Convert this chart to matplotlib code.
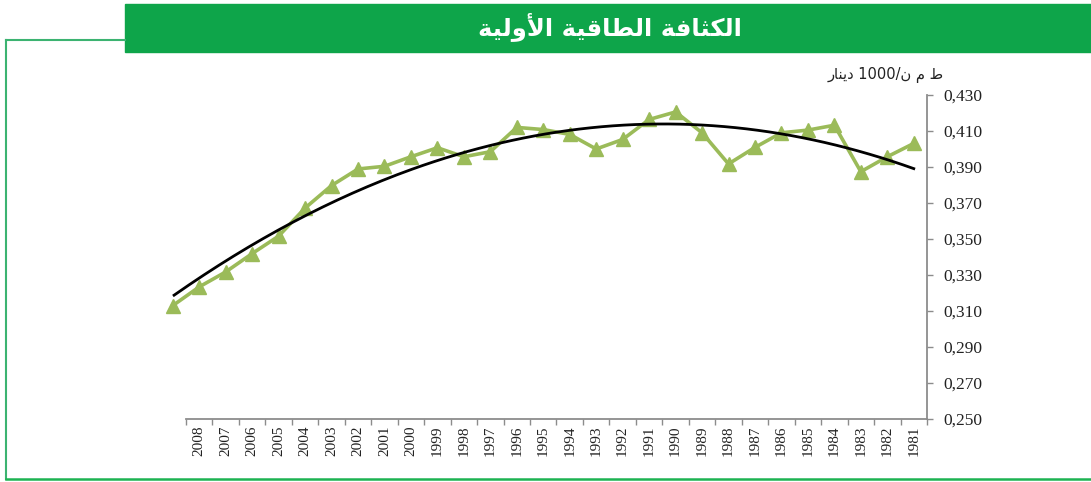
import re
import numpy as np
import matplotlib
matplotlib.use("Agg")
import matplotlib.pyplot as plt
from matplotlib.lines import Line2D
from matplotlib.patches import Rectangle
from matplotlib.ticker import FuncFormatter

years = ["2008", "2007", "2006", "2005", "2004", "2003", "2002", "2001", "2000",
         "1999", "1998", "1997", "1996", "1995", "1994", "1993", "1992", "1991",
         "1990", "1989", "1988", "1987", "1986", "1985", "1984", "1983", "1982", "1981"]
# 29 points in the source: the first one sits one slot before 2008
intensity = [0.313, 0.3234, 0.3317, 0.3419, 0.3516, 0.3672, 0.3797, 0.3889, 0.3904,
             0.3957, 0.4007, 0.3957, 0.3985, 0.4120, 0.4108, 0.4081, 0.4000, 0.4053,
             0.4164, 0.4206, 0.4090, 0.3917, 0.4009, 0.4090, 0.4105, 0.4132, 0.3874,
             0.3957, 0.4031]
title = "الكثافة الطاقية الأولية"
unit = "ط م ن/1000 دينار"

# minimal Arabic shaping (isolated, final, initial, medial)
FORMS = {
    "\u0627": ("\uFE8D", "\uFE8E", None, None),
    "\u0623": ("\uFE83", "\uFE84", None, None),
    "\u0629": ("\uFE93", "\uFE94", None, None),
    "\u0648": ("\uFEED", "\uFEEE", None, None),
    "\u062F": ("\uFEA9", "\uFEAA", None, None),
    "\u0631": ("\uFEAD", "\uFEAE", None, None),
    "\u062B": ("\uFE99", "\uFE9A", "\uFE9B", "\uFE9C"),
    "\u0637": ("\uFEC1", "\uFEC2", "\uFEC3", "\uFEC4"),
    "\u0641": ("\uFED1", "\uFED2", "\uFED3", "\uFED4"),
    "\u0642": ("\uFED5", "\uFED6", "\uFED7", "\uFED8"),
    "\u0643": ("\uFED9", "\uFEDA", "\uFEDB", "\uFEDC"),
    "\u0644": ("\uFEDD", "\uFEDE", "\uFEDF", "\uFEE0"),
    "\u0645": ("\uFEE1", "\uFEE2", "\uFEE3", "\uFEE4"),
    "\u0646": ("\uFEE5", "\uFEE6", "\uFEE7", "\uFEE8"),
    "\u064A": ("\uFEF1", "\uFEF2", "\uFEF3", "\uFEF4"),
}
LAM_ALEF = {"\u0623": ("\uFEF7", "\uFEF8"), "\u0627": ("\uFEFB", "\uFEFC")}


def joins_next(c):
    return c in FORMS and FORMS[c][2] is not None


def rtl(s):
    out = []
    i = 0
    while i < len(s):
        c = s[i]
        prev = s[i - 1] if i > 0 else ""
        nxt = s[i + 1] if i + 1 < len(s) else ""
        cp = joins_next(prev)
        if c == "\u0644" and nxt in LAM_ALEF:
            out.append(LAM_ALEF[nxt][1 if cp else 0])
            i += 2
            continue
        if c in FORMS:
            cn = joins_next(c) and nxt in FORMS
            f = FORMS[c]
            out.append(f[3] if cp and cn else f[1] if cp else f[2] if cn else f[0])
        else:
            out.append(c)
        i += 1
    vis = "".join(out)[::-1]
    return re.sub(r"\d+", lambda m: m.group()[::-1], vis)


W, H = 1091, 482
gray = "#8c8c8c"
fig = plt.figure(figsize=(W / 100, H / 100), dpi=100)
ax = fig.add_axes([186 / W, 1 - 419 / H, 741 / W, 324 / H])

x = np.arange(-1, len(years))
ax.plot(x, intensity, color="#9BBB59", lw=2.6, marker="^", ms=9.5,
        clip_on=False, zorder=3)
coef = np.polyfit(x, intensity, 2)
xt = np.linspace(x[0] + 0.05, x[-1], 200)
ax.plot(xt, np.polyval(coef, xt), color="black", lw=2, clip_on=False, zorder=4)

ax.set_xlim(-0.5, len(years) - 0.5)
ax.set_ylim(0.25, 0.43)
ax.yaxis.tick_right()
ax.set_yticks(np.arange(0.25, 0.4301, 0.02))
ax.yaxis.set_major_formatter(FuncFormatter(lambda v, p: f"{v:.3f}".replace(".", ",")))
ax.set_xticks(range(len(years)))
ax.set_xticklabels(years, rotation=90)
ax.set_xticks(np.arange(-0.5, len(years), 1), minor=True)
ax.tick_params(axis="x", which="major", length=0, pad=5, labelsize=11)
ax.tick_params(axis="x", which="minor", length=4, color=gray, width=1)
ax.tick_params(axis="y", length=4, color=gray, width=1, pad=8, labelsize=12.5)
for lab in ax.get_xticklabels() + ax.get_yticklabels():
    lab.set_family("Liberation Serif")
    lab.set_color("#222222")
ax.spines["top"].set_visible(False)
ax.spines["left"].set_visible(False)
for s in ("right", "bottom"):
    ax.spines[s].set_color(gray)
    ax.spines[s].set_linewidth(1.3)

# banner and frame
fig.patches.append(Rectangle((125 / W, 1 - 52 / H), 1 - 125 / W, 48 / H,
                             transform=fig.transFigure, color="#0EA54A", zorder=0))
fig.text(610 / W, 1 - 27 / H, rtl(title), color="white", fontsize=17.5,
         fontweight="bold", ha="center", va="center", family="DejaVu Sans")
frame = "#3CB371"
fig.lines.append(Line2D([5.5 / W, 5.5 / W], [1 - 40 / H, 1 - 479 / H],
                        transform=fig.transFigure, color=frame, lw=1.5))
fig.lines.append(Line2D([5.5 / W, 125 / W], [1 - 40 / H, 1 - 40 / H],
                        transform=fig.transFigure, color=frame, lw=1.5))
fig.lines.append(Line2D([5.5 / W, 1], [1 - 479 / H, 1 - 479 / H],
                        transform=fig.transFigure, color="#1DB352", lw=1.8))
fig.text(944 / W, 1 - 75 / H, rtl(unit), fontsize=10.5, ha="right", va="center",
         family="DejaVu Sans", color="#222222")

fig.savefig("out.png", dpi=100)
